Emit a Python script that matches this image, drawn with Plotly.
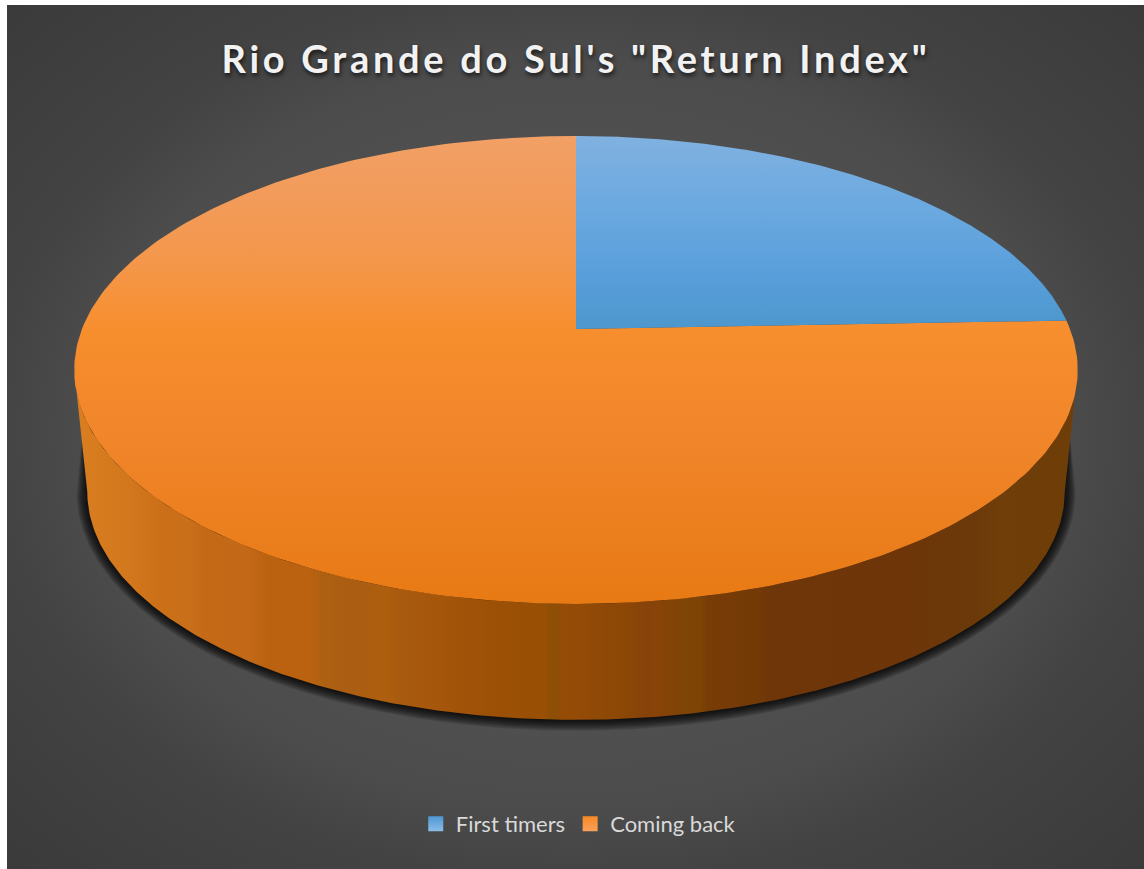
"""Rio Grande do Sul's return index, drawn as a perspective 3D pie."""

import numpy as np
import plotly.graph_objects as go

CATEGORIES = ["First timers", "Coming back"]
VALUES = [24.4, 75.6]
TITLE = 'Rio Grande do Sul\'s "Return Index"'

_BLUE = [(0.0, "#80b1e0"), (0.35, "#6ca9e0"), (0.7, "#5a9fdb"), (1.0, "#4c97cd")]
_ORANGE = [
    (0.0, "#f2a066"),
    (0.15, "#f29a58"),
    (0.27, "#f4974a"),
    (0.42, "#f78e2d"),
    (0.65, "#f0852a"),
    (1.0, "#e87a14"),
]
# (pixel x, colour) of the side wall, with the faint facet streaks
_WALL = [
    (80, "#d87e20"), (130, "#d2771c"), (160, "#cb7018"), (190, "#c96f1a"),
    (205, "#c46a17"), (250, "#c26816"), (268, "#bb6211"), (310, "#ba620f"),
    (322, "#ae6012"), (350, "#aa5e12"), (385, "#ae5f0e"), (400, "#a85a0e"),
    (440, "#a5560a"), (470, "#a05208"), (500, "#9b5006"), (545, "#985004"),
    (548, "#914f06"), (558, "#8e4e06"), (562, "#964c06"), (620, "#8d4806"),
    (650, "#86420a"), (655, "#8a4307"), (680, "#7f4506"), (700, "#7d4406"),
    (708, "#783c06"), (760, "#733a06"), (768, "#6f3609"), (900, "#6e3509"),
    (970, "#6b390a"), (1000, "#703e08"), (1076, "#6e3d08"),
]

# perspective of the pie, in page pixels
_CX, _APEX_Y = 576.0, 329.0
_DX, _DY, _TILT = 494.0, 169.2, -0.175
_DEPTH_SCALE, _VANISH_Y = 0.974, 5065.0


def _top(angle):
    """Project clockwise-from-north angles onto the pie's top face."""
    gx, gy = np.sin(angle), -np.cos(angle)
    w = 1 + _TILT * gy
    return _CX + _DX * gx / w, (_DY * gy + _APEX_Y) / w


def _bottom(angle):
    x, y = _top(angle)
    return _CX + (x - _CX) * _DEPTH_SCALE, _VANISH_Y + (y - _VANISH_Y) * _DEPTH_SCALE


def _slice(start, stop, colors, y0=136, y1=604):
    angle = np.linspace(start, stop, 240)
    x, y = _top(angle)
    return go.Scatter(
        x=[_CX, *x, _CX],
        y=[_APEX_Y, *y, _APEX_Y],
        mode="lines",
        line={"width": 0},
        fill="toself",
        fillgradient={
            "type": "vertical",
            "colorscale": colors,
            "start": y0,
            "stop": y1,
        },
        hoverinfo="skip",
        showlegend=False,
    )


fig = go.Figure()

# panel background
fig.add_trace(
    go.Scatter(
        x=[575 - 810, 575 + 810, 575 + 810, 575 - 810, 575 - 810],
        y=[435 - 620, 435 - 620, 435 + 620, 435 + 620, 435 - 620],
        mode="lines",
        line={"width": 0},
        fill="toself",
        fillgradient={
            "type": "radial",
            "colorscale": [
                (0.0, "#5a5a5a"),
                (0.6, "#4c4c4c"),
                (0.72, "#434343"),
                (1.0, "#3a3a3a"),
            ],
        },
        hoverinfo="skip",
        showlegend=False,
    )
)

# wall geometry: front arc only, from the left tangent to the right tangent
front = np.linspace(np.pi * 1.5 - 0.176, np.pi * 0.5 + 0.176, 300)
top_x, top_y = _top(front)
bot_x, bot_y = _bottom(front)

# blurred drop shadow under the wall
for grow in (11, 10, 9, 8, 7, 6, 5, 4, 3, 2, 1):
    sx = _CX + (bot_x - _CX) * (1 + grow / 489)
    sy = 492 + (bot_y - 492) * (1 + grow / 228)
    fig.add_trace(
        go.Scatter(
            x=[84, *sx, 1068, 84],
            y=[415, *sy, 415, 415],
            mode="lines",
            line={"width": 0},
            fill="toself",
            fillcolor="rgba(0,0,0,0.11)",
            hoverinfo="skip",
            showlegend=False,
        )
    )

wall_lo, wall_hi = _WALL[0][0], _WALL[-1][0]
fig.add_trace(
    go.Scatter(
        x=[*top_x, *bot_x[::-1], top_x[0]],
        y=[*top_y, *bot_y[::-1], top_y[0]],
        mode="lines",
        line={"width": 0},
        fill="toself",
        fillgradient={
            "type": "horizontal",
            "colorscale": [((p - wall_lo) / (wall_hi - wall_lo), c) for p, c in _WALL],
            "start": wall_lo,
            "stop": wall_hi,
        },
        hoverinfo="skip",
        showlegend=False,
    )
)

# top face, angles come from the values
split = 2 * np.pi * VALUES[0] / sum(VALUES)
fig.add_trace(_slice(split, 2 * np.pi, _ORANGE))
fig.add_trace(_slice(0, split, _BLUE, 136, 329))

# legend entries
for name, base, light in zip(CATEGORIES, ["#4f97d2", "#f68a25"], ["#8cbdea", "#fba05a"]):
    fig.add_trace(
        go.Scatter(
            x=[None],
            y=[None],
            name=name,
            mode="markers",
            marker={
                "symbol": "square",
                "size": 15,
                "color": base,
                "gradient": {"type": "vertical", "color": light},
            },
        )
    )

fig.update_layout(
    width=1144,
    height=869,
    paper_bgcolor="#ffffff",
    plot_bgcolor="#3a3a3a",
    margin={"l": 7, "r": 0, "t": 5, "b": 0, "pad": 0},
    font={"family": "Lato, sans-serif", "color": "#d9d9d9"},
    title={
        "text": TITLE,
        "x": 576 / 1144,
        "xanchor": "center",
        "y": 1 - 60 / 869,
        "yanchor": "middle",
        "font": {
            "family": "Lato, sans-serif",
            "size": 38,
            "weight": 700,
            "color": "#f2f2f2",
            "shadow": "1px 3px 4px rgba(0,0,0,0.65)",
        },
    },
    legend={
        "orientation": "h",
        "x": 0.3595,
        "xanchor": "left",
        "y": 0.052,
        "yanchor": "middle",
        "font": {"size": 22, "color": "#d9d9d9"},
        "bgcolor": "rgba(0,0,0,0)",
    },
    xaxis={"range": [7, 1144], "visible": False},
    yaxis={"range": [869, 5], "visible": False},
)

# page margin off, and the wide tracking of the title
post = (
    "document.body.style.margin='0';"
    "document.querySelectorAll('.gtitle').forEach(t=>t.style.letterSpacing='3.7px');"
)
fig.write_html("out.html", config={"displayModeBar": False}, post_script=post)
